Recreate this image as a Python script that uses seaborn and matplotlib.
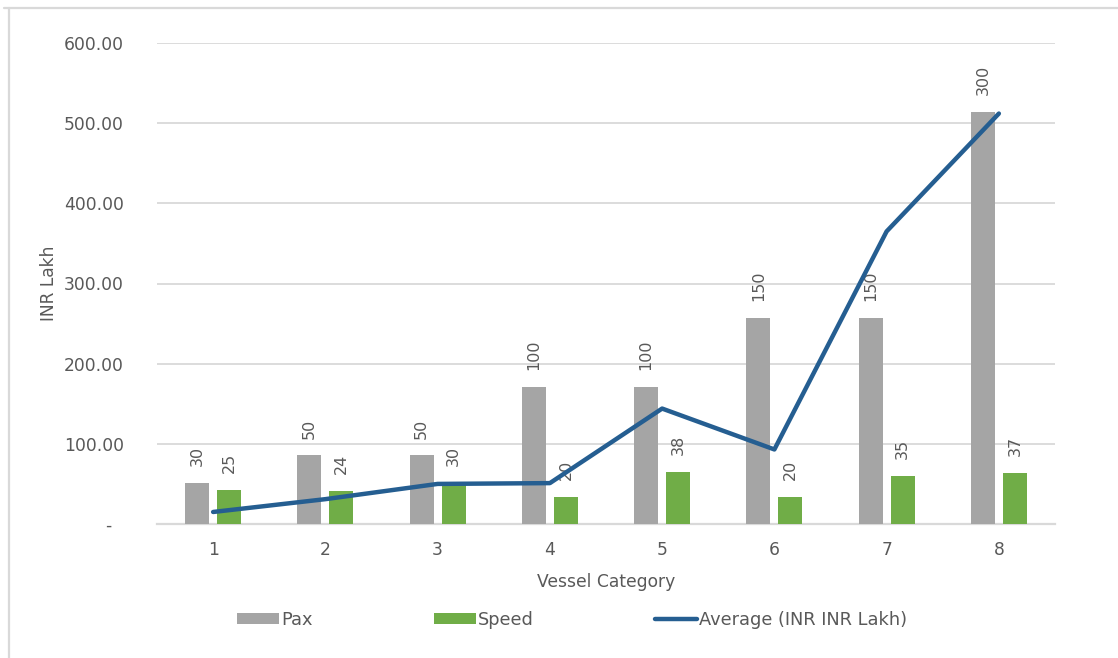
import numpy as np
import pandas as pd
import matplotlib
matplotlib.use("Agg")
import matplotlib.pyplot as plt
from matplotlib.lines import Line2D
from matplotlib.ticker import FuncFormatter
import seaborn as sns

# Vessel categories and their figures
categories = ["1", "2", "3", "4", "5", "6", "7", "8"]
pax = [30, 50, 50, 100, 100, 150, 150, 300]
speed = [25, 24, 30, 20, 38, 20, 35, 37]
average_cost = [15, 31, 50, 51, 144, 93, 365, 512]

series_names = ["Pax", "Speed"]
line_name = "Average (INR INR Lakh)"
y_ticks = [0, 100, 200, 300, 400, 500, 600]

GREY = "#A5A5A5"
GREEN = "#70AD47"
BLUE = "#255E91"
TEXT = "#595959"
RULE = "#D9D9D9"

sns.set_theme(style="white")
plt.rcParams["font.family"] = ["DejaVu Sans"]

bars = pd.DataFrame({
    "Vessel Category": categories * 2,
    "value": pax + speed,
    "series": [series_names[0]] * len(pax) + [series_names[1]] * len(speed),
})
line = pd.DataFrame({"pos": np.arange(len(categories)), "avg": average_cost})

fig = plt.figure(figsize=(11.18, 6.58), dpi=100)
ax = fig.add_axes([157 / 1118, 1 - 524 / 658, (1055 - 157) / 1118, (524 - 43) / 658])

# bars live on a hidden secondary scale (0-350); the line uses the visible INR scale
ax_bar = ax.twinx()
ax_line = ax.twinx()

sns.barplot(data=bars, x="Vessel Category", y="value", hue="series",
            order=categories, hue_order=series_names,
            palette=[GREY, GREEN], width=0.571, gap=0.25,
            saturation=1, linewidth=0, edgecolor="none", ax=ax_bar)
bar_handles, bar_labels = ax_bar.get_legend_handles_labels()
if ax_bar.legend_ is not None:
    ax_bar.legend_.remove()
for cont in ax_bar.containers:
    ax_bar.bar_label(cont, fmt="%g", rotation=90, padding=12,
                     fontsize=11.5, color=TEXT)

sns.lineplot(data=line, x="pos", y="avg", color=BLUE, linewidth=3.2,
             label=line_name, legend=False, ax=ax_line)
line_handles, line_labels = ax_line.get_legend_handles_labels()

ax.set_xlim(-0.5, len(categories) - 0.5)
ax.set_ylim(0, 600)
ax_line.set_ylim(0, 600)
ax_bar.set_ylim(0, 350)

for a in (ax_bar, ax_line):
    a.set_yticks([])
    a.set_ylabel("")
    a.set_xlabel("")
    for s in a.spines.values():
        s.set_visible(False)
    a.patch.set_visible(False)

ax.set_yticks(y_ticks)
ax.yaxis.set_major_formatter(FuncFormatter(lambda v, p: "-  " if v == 0 else f"{v:.2f}"))
ax.set_xticks(np.arange(len(categories)))
ax.set_xticklabels(categories)
ax.tick_params(axis="y", length=0, pad=24, labelsize=12.3, labelcolor=TEXT)
ax.tick_params(axis="x", length=0, pad=12, labelsize=12.3, labelcolor=TEXT)
ax.grid(axis="y", color=RULE, linewidth=1.3)
ax.grid(axis="x", visible=False)
ax.set_axisbelow(True)
for side in ("left", "right", "top"):
    ax.spines[side].set_visible(False)
ax.spines["bottom"].set_color(RULE)
ax.spines["bottom"].set_linewidth(1.6)

ax.set_ylabel("INR Lakh", fontsize=12.3, color=TEXT, labelpad=4)
ax.set_xlabel("Vessel Category", fontsize=12.3, color=TEXT, labelpad=10)

leg = fig.legend(bar_handles + line_handles, bar_labels + line_labels,
                 loc="center", bbox_to_anchor=(572 / 1118, 1 - 620 / 658),
                 ncol=3, frameon=False, fontsize=12.8, handlelength=2.4,
                 handleheight=0.6, handletextpad=0.1, columnspacing=6.8)
for t in leg.get_texts():
    t.set_color(TEXT)

# chart frame edges
fig.add_artist(Line2D([4 / 1118, 1], [1 - 8 / 658, 1 - 8 / 658],
                      transform=fig.transFigure, color=RULE, linewidth=1.6))
fig.add_artist(Line2D([9 / 1118, 9 / 1118], [0, 1 - 8 / 658],
                      transform=fig.transFigure, color=RULE, linewidth=1.6))

fig.savefig("out.png", dpi=100, facecolor="white")
